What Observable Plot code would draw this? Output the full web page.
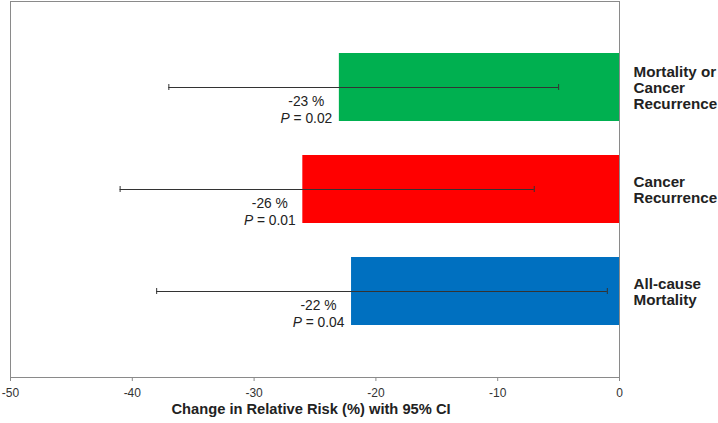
<!DOCTYPE html>
<html>
<head>
<meta charset="utf-8">
<script src="https://cdn.jsdelivr.net/npm/d3@7"></script>
<script src="https://cdn.jsdelivr.net/npm/@observablehq/plot@0.6"></script>
<style>
  html, body { margin: 0; padding: 0; background: #fff; }
</style>
</head>
<body>
<div id="chart"></div>
<script>
const categories = ["Mortality or Cancer Recurrence", "Cancer Recurrence", "All-cause Mortality"];
const categoryLines = ["Mortality or\nCancer\nRecurrence", "Cancer\nRecurrence", "All-cause\nMortality"];
const change = [-23, -26, -22];
const ciLow = [-37, -41, -38];
const ciHigh = [-5, -7, -1];
const pValues = ["0.02", "0.01", "0.04"];
const colors = ["#00B050", "#FF0000", "#0070C0"];
const xTicks = [-50, -40, -30, -20, -10, 0];
const axisTitle = "Change in Relative Risk (%) with 95% CI";

const data = categories.map((c, i) => ({
  cat: c, label: categoryLines[i], change: change[i], lo: ciLow[i], hi: ciHigh[i], p: pValues[i], color: colors[i]
}));

const font = "'Liberation Sans', Arial, Helvetica, sans-serif";

const chart = Plot.plot({
  width: 718,
  height: 423,
  marginLeft: 10,
  marginRight: 99,
  marginTop: 1,
  marginBottom: 46,
  style: {fontFamily: font, fontSize: "12px", color: "#333", background: "#fff"},
  x: {domain: [-50, 0]},
  y: {domain: categories, paddingInner: 0.337, paddingOuter: 0.5, axis: null},
  color: {type: "identity"},
  marks: [
    Plot.barX(data, {x: "change", y: "cat", fill: "color"}),
    Plot.frame({stroke: "#8a8a8a"}),
    Plot.axisX({ticks: xTicks, tickSize: 4, tickPadding: 7, tickFormat: d => String(d), stroke: "#8a8a8a", fill: "#333", fontSize: 12, label: null}),
    Plot.ruleY(data, {y: "cat", x1: "lo", x2: "hi", stroke: "#333", strokeWidth: 1}),
    Plot.tickX(data, {x: "lo", y: "cat", insetTop: 31, insetBottom: 31, stroke: "#333"}),
    Plot.tickX(data, {x: "hi", y: "cat", insetTop: 31, insetBottom: 31, stroke: "#333"}),
    Plot.text(data, {
      x: "change", y: "cat",
      text: d => `${d.change} %\nP = ${d.p}`,
      textAnchor: "middle", lineAnchor: "top", lineHeight: 1.24,
      dx: -33, dy: 6, fontSize: 13.8, fill: "#222"
    }),
    Plot.text(data, {
      x: d => 0, y: "cat", text: "label",
      textAnchor: "start", dx: 14, fontWeight: "bold", fontSize: 15.2, lineHeight: 1.06, fill: "#222"
    }),
    Plot.text([axisTitle], {frameAnchor: "bottom", dx: -4, dy: 36.5, fontWeight: "bold", fontSize: 14.7, fill: "#222"})
  ]
});

// Italicise the "P" in the p-value lines
chart.querySelectorAll("tspan, text").forEach(el => {
  if (el.children.length === 0 && /^P = /.test(el.textContent)) {
    const rest = el.textContent.slice(1);
    el.textContent = "";
    const ns = "http://www.w3.org/2000/svg";
    const p = document.createElementNS(ns, "tspan");
    p.setAttribute("font-style", "italic");
    p.textContent = "P";
    const r = document.createElementNS(ns, "tspan");
    r.textContent = rest;
    el.appendChild(p);
    el.appendChild(r);
  }
});

document.getElementById("chart").appendChild(chart);
</script>
</body>
</html>
